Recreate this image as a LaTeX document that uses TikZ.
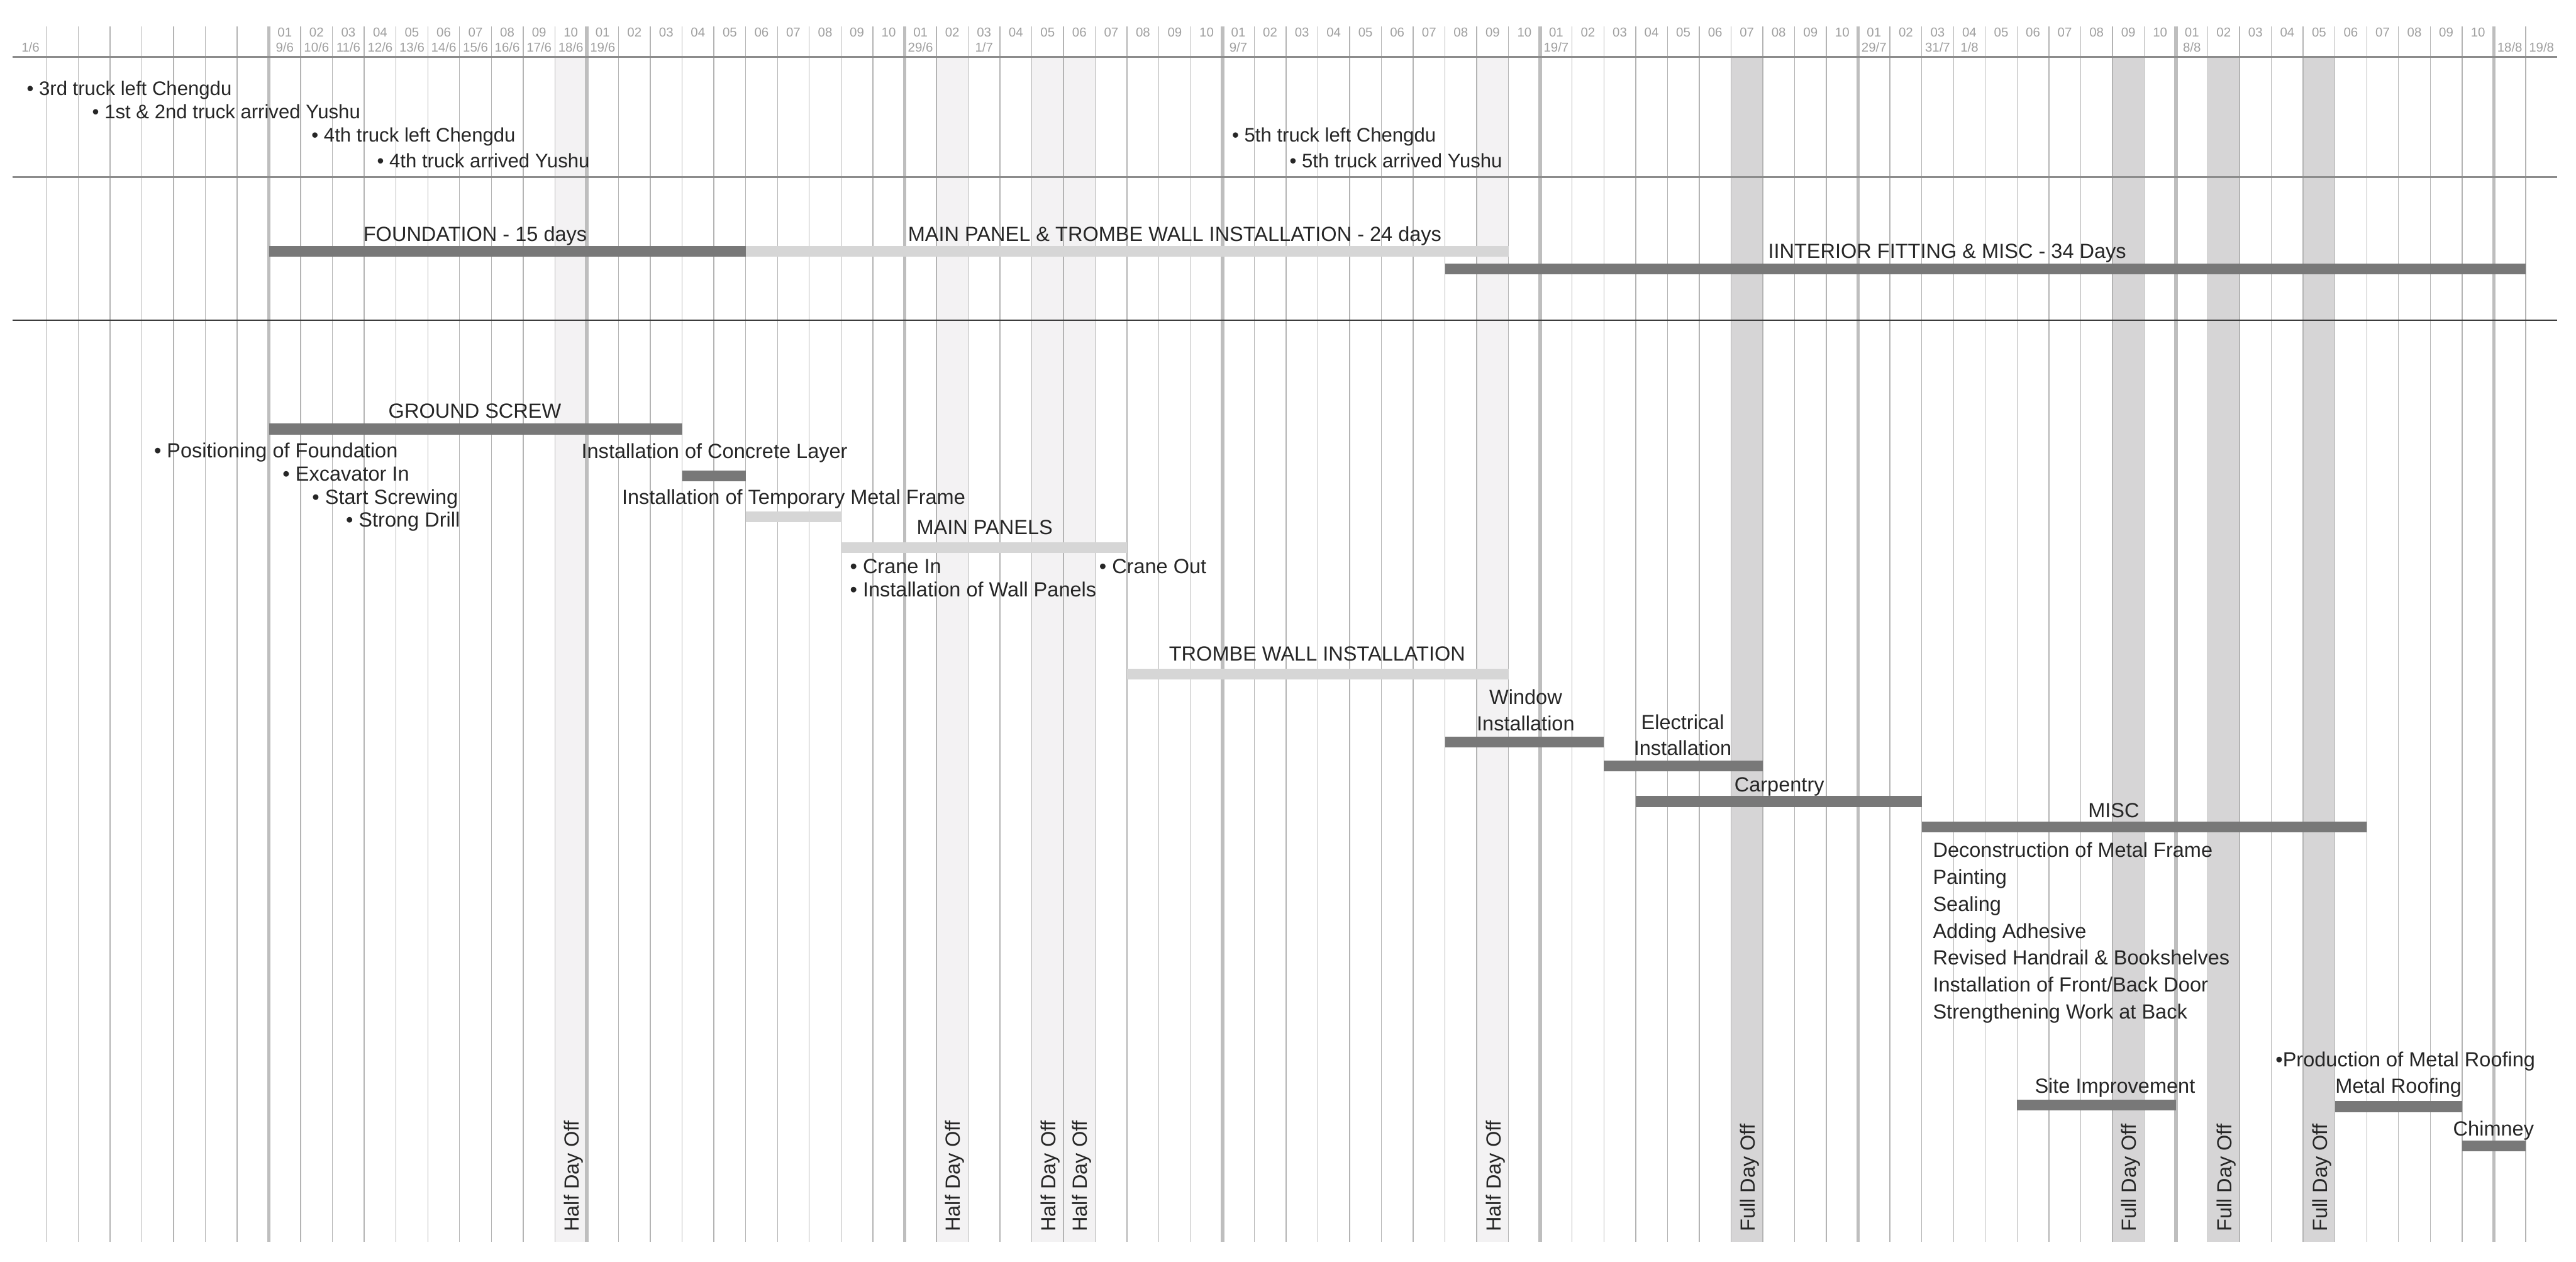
\documentclass[tikz,border=0pt]{standalone}
\usepackage{fontspec}
\setmainfont{Liberation Sans}
\definecolor{bardark}{HTML}{787878}
\definecolor{barlight}{HTML}{D6D6D6}
\definecolor{fulloff}{HTML}{D6D5D6}
\definecolor{halfoff}{HTML}{F3F2F3}
\definecolor{gridthin}{HTML}{B4B4B4}
\definecolor{gridthick}{HTML}{BEBEBE}
\definecolor{rulegray}{HTML}{8C8C8C}
\definecolor{ruledark}{HTML}{3C3C3C}
\definecolor{headgray}{HTML}{A0A0A0}
\definecolor{inkblack}{HTML}{262626}
\tikzset{
  ganttdark/.style={draw=bardark, line width=18.5pt},
  ganttlight/.style={draw=barlight, line width=18.5pt},
  tasklabel/.style={anchor=base, inner sep=0pt, text=inkblack, font=\fontsize{35pt}{45pt}\selectfont},
  listlabel/.style={tasklabel, anchor=base west},
  eventlabel/.style={listlabel, font=\fontsize{33.5pt}{40pt}\selectfont},
  daynum/.style={anchor=base, inner sep=0pt, text=headgray, font=\fontsize{22pt}{26pt}\selectfont},
  offlabel/.style={anchor=base west, rotate=90, inner sep=0pt, text=inkblack, font=\fontsize{35pt}{40pt}\selectfont}
}
\begin{document}
\begin{tikzpicture}[x=54.39pt, y=-1pt]
	\useasboundingbox (-0.4596,0) rectangle (80.585,2158);
	\fill[white] (-0.4596,0) rectangle (80.585,2158);
	% days off
	\foreach \i in {17,29,32,33,46} \fill[halfoff] (\i,97) rectangle (\i+1,2124);
	\foreach \i in {54,66,69,72} \fill[fulloff] (\i,97) rectangle (\i+1,2124);
	% day grid
	\foreach \i in {1,...,79} \draw[gridthin, line width=1.5pt] (\i,45) -- (\i,2124);
	\foreach \i in {8,18,...,78} \draw[gridthick, line width=6pt] (\i,45) -- (\i,2124);
	\draw[rulegray, line width=3pt] (-0.07,97) -- (80,97);
	\draw[rulegray, line width=3pt] (-0.07,303) -- (80,303);
	\draw[ruledark, line width=2pt] (-0.07,548) -- (80,548);
	% header
	\foreach \g in {8,18,...,68}
		\foreach \d [count=\k from 0] in {01,02,03,04,05,06,07,08,09,10}
			\node[daynum] (num-\g-\k) at (\g+\k+0.5,63.3) {\d};
	\foreach \c/\dd/\mm in {0/1/6,8/9/6,9/10/6,10/11/6,11/12/6,12/13/6,13/14/6,14/15/6,15/16/6,16/17/6,17/18/6,18/19/6,28/29/6,30/1/7,38/9/7,48/19/7,58/29/7,60/31/7,61/1/8,68/8/8,78/18/8,79/19/8}
		\node[daynum] (date-\c) at (\c+0.5,89.3) {\dd/\mm};
	% trucks
	\node[eventlabel] (truck3left) at (0.379,163) {• 3rd truck left Chengdu};
	\node[eventlabel] (truck12arr) at (2.44,203) {• 1st \& 2nd truck arrived Yushu};
	\node[eventlabel] (truck4left) at (9.34,243) {• 4th truck left Chengdu};
	\node[eventlabel] (truck4arr) at (11.40,287) {• 4th truck arrived Yushu};
	\node[eventlabel] (truck5left) at (38.30,243) {• 5th truck left Chengdu};
	\node[eventlabel] (truck5arr) at (40.11,287) {• 5th truck arrived Yushu};
	% phases
	\draw[ganttdark] (8,430) -- (23,430);
	\draw[ganttlight] (23,430) -- (47,430);
	\draw[ganttdark] (45,460) -- (79,460);
	\node[tasklabel] (foundation) at (14.49,412.7) {FOUNDATION - 15 days};
	\node[tasklabel] (mainphase) at (36.5,412.7) {MAIN PANEL \& TROMBE WALL INSTALLATION - 24 days};
	\node[tasklabel] (interior) at (60.8,441.7) {IINTERIOR FITTING \& MISC - 34 Days};
	% tasks
	\draw[ganttdark] (8,734) -- (21,734);
	\draw[ganttdark] (21,814) -- (23,814);
	\draw[ganttlight] (23,884) -- (26,884);
	\draw[ganttlight] (26,937) -- (35,937);
	\draw[ganttlight] (35,1153) -- (47,1153);
	\draw[ganttdark] (45,1269.5) -- (50,1269.5);
	\draw[ganttdark] (50,1310) -- (55,1310);
	\draw[ganttdark] (51,1371) -- (60,1371);
	\draw[ganttdark] (60,1415) -- (74,1415);
	\draw[ganttdark] (63,1890) -- (68,1890);
	\draw[ganttdark] (73,1893) -- (77,1893);
	\draw[ganttdark] (77,1960) -- (79,1960);
	\node[tasklabel] (groundscrew) at (14.48,715) {GROUND SCREW};
	\node[listlabel] (positioning) at (4.385,783) {• Positioning of Foundation};
	\node[listlabel] (excavator) at (8.43,822.7) {• Excavator In};
	\node[listlabel] (screwing) at (9.36,862.3) {• Start Screwing};
	\node[listlabel] (drill) at (10.42,901.7) {• Strong Drill};
	\node[tasklabel] (concrete) at (22.02,784) {Installation of Concrete Layer};
	\node[tasklabel] (tempframe) at (24.51,862.3) {Installation of Temporary Metal Frame};
	\node[tasklabel] (mainpanels) at (30.52,914) {MAIN PANELS};
	\node[listlabel] (cranein) at (26.28,981) {• Crane In};
	\node[listlabel] (wallpanels) at (26.28,1021) {• Installation of Wall Panels};
	\node[listlabel] (craneout) at (34.12,981) {• Crane Out};
	\node[tasklabel] (trombe) at (40.98,1130) {TROMBE WALL INSTALLATION};
	\node[tasklabel, align=center, anchor=south] (window) at (47.54,1250) {Window\\Installation};
	\node[tasklabel, align=center, anchor=south] (electrical) at (52.48,1293) {Electrical\\Installation};
	\node[tasklabel] (carpentry) at (55.52,1354) {Carpentry};
	\node[tasklabel] (misc) at (66.04,1399) {MISC};
	\foreach \t [count=\n from 0] in {Deconstruction of Metal Frame,Painting,Sealing,Adding Adhesive,Revised Handrail \& Bookshelves,Installation of Front/Back Door,Strengthening Work at Back}
		\node[listlabel] (misc-\n) at (60.35,1466+46.2*\n) {\t};
	\node[listlabel] (roofprod) at (71.13,1825) {•Production of Metal Roofing};
	\node[tasklabel] (site) at (66.08,1870) {Site Improvement};
	\node[tasklabel] (roofing) at (75.0,1870) {Metal Roofing};
	\node[tasklabel] (chimney) at (77.99,1943) {Chimney};
	% day off labels
	\foreach \i in {17,29,32,33,46} \node[offlabel] (half-\i) at (\i+0.75,2107) {Half Day Off};
	\foreach \i in {54,66,69,72} \node[offlabel] (full-\i) at (\i+0.75,2107) {Full Day Off};
\end{tikzpicture}
\end{document}
